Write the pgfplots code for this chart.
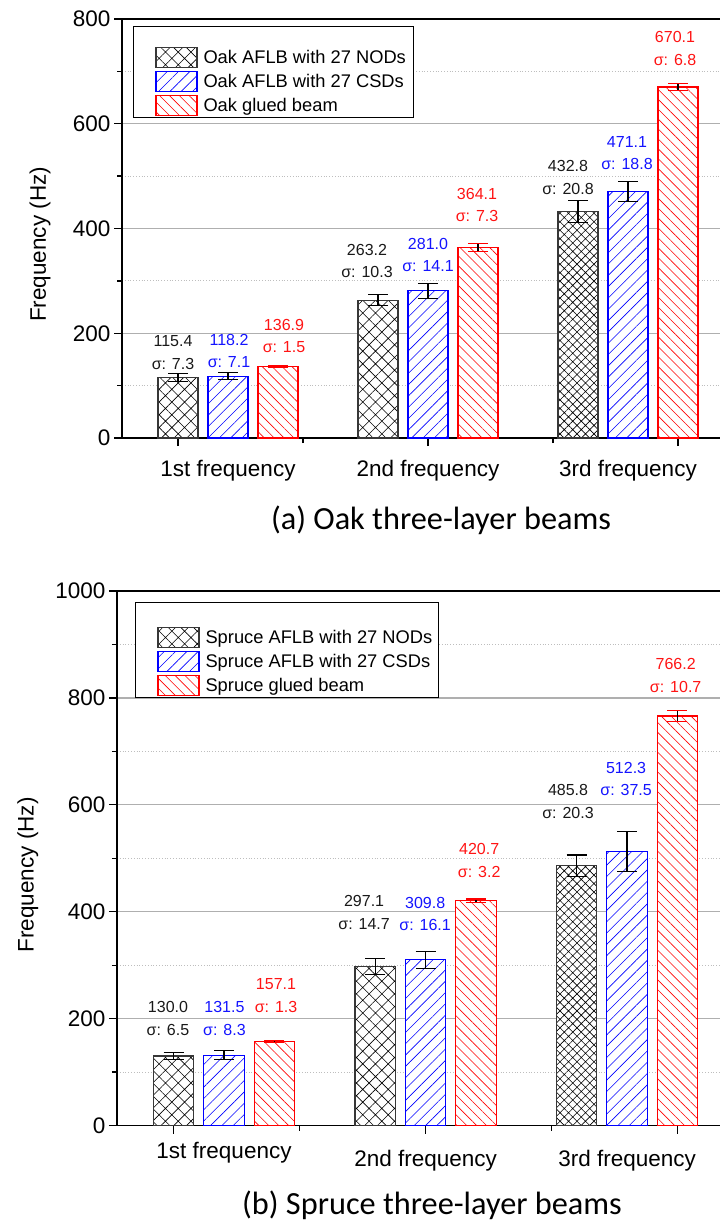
\documentclass[border=0pt]{standalone}
\usepackage{pgfplots}
\pgfplotsset{compat=1.18}
\usepackage{fontspec}
\setmainfont{Liberation Sans}
\newfontfamily\capfont{Carlito}
\usetikzlibrary{patterns.meta}

\definecolor{gridmajor}{RGB}{175,175,175}
\definecolor{gridminor}{RGB}{190,190,190}
\definecolor{edgeblack}{RGB}{55,55,55}
\definecolor{txtblack}{RGB}{25,25,25}
\definecolor{txtblue}{RGB}{20,20,255}
\definecolor{txtred}{RGB}{255,20,20}

\tikzset{vlabel/.style={font=\fontsize{16}{22.5}\selectfont, align=center, inner sep=0pt}}

\pgfplotsset{
  % legend swatch: a fixed 70x24 cell with a 41x20 patterned box
  swatch/.style={legend image code/.code={%
      \node[inner sep=0pt, minimum width=70pt, minimum height=24pt, anchor=west] at (-23pt,0pt) {};
      \draw[##1] (0pt,-10pt) rectangle (41pt,10pt);}},
  errs/.style 2 args={
      /pgfplots/error bars/y dir=both,
      /pgfplots/error bars/y explicit,
      /pgfplots/error bars/error bar style={#1, line width=1.2pt},
      /pgfplots/error bars/error mark options={rotate=90, mark size=10pt, line width=1.2pt, #2}},
  nodbar/.style={ybar, bar width=0.2, bar shift=0pt, fill=white, draw=edgeblack, line width=1.1pt,
      postaction={pattern={Hatch[angle=45,distance=#1,line width=0.6pt]}, pattern color=black},
      swatch, errs={black}{black}},
  nodbar/.default=9pt,
  csdbar/.style={ybar, bar width=0.2, bar shift=0pt, fill=white, draw=blue, line width=1.1pt,
      postaction={pattern={Lines[angle=45,distance=8pt,line width=0.6pt]}, pattern color=blue},
      swatch, errs={black}{black}},
  gluebar/.style={ybar, bar width=0.2, bar shift=0pt, fill=white, draw=red, line width=1.1pt,
      postaction={pattern={Lines[angle=-45,distance=7pt,line width=0.6pt]}, pattern color=red},
      swatch, errs={black}{red}},
  freqaxis/.style={
    scale only axis,
    axis x line*=box, axis y line*=left,
    axis line style={line width=1.6pt, black},
    tick style={line width=1.3pt, black},
    major tick length=8pt, minor tick length=5pt,
    tick align=outside,
    xtick pos=bottom,
    ymajorgrids, yminorgrids,
    major grid style={gridmajor, line width=1.3pt},
    minor grid style={gridminor, line width=0.8pt, dotted},
    minor y tick num=1,
    xtick={0.75,2,3.25}, xticklabels={},
    minor xtick={1.375,2.625},
    extra x ticks={1,2,3},
    extra x tick style={major tick length=0pt, grid=none},
    tick label style={font=\fontsize{22.5}{27}\selectfont},
    /pgf/number format/assume math mode=true,
    /pgf/number format/1000 sep={},
    ylabel style={font=\fontsize{22.5}{27}\selectfont, anchor=center},
    legend cell align=left,
    legend style={anchor=north west, draw=black, line width=1pt, fill=white,
      inner xsep=0pt, inner ysep=0pt, row sep=0pt, column sep=0pt,
      font=\fontsize{18.3}{21}\selectfont, nodes={inner sep=0pt}},
  },
}

\newcommand\vlab[5]{\node[vlabel, text=#1] at (axis cs:#2,#3) {#4\\σ: #5};}

\begin{document}
\begin{tikzpicture}
\useasboundingbox (0pt,0pt) rectangle (720pt,-1223pt);

% ---------- (a) oak ----------
\begin{axis}[freqaxis,
  at={(122pt,-438pt)}, anchor=south west, width=598pt, height=419pt,
  xmin=0.47, xmax=3.46, ymin=0, ymax=800, ytick={0,200,...,800},
  extra x tick labels={1st frequency,2nd frequency,3rd frequency},
  xticklabel style={yshift=-19pt},
  ylabel={Frequency (Hz)},
  ylabel style={at={(axis description cs:-0.137,0.462)}},
  legend style={at={(axis description cs:0.0184,0.983)}}]
\addlegendimage{legend image code/.code={\node[inner sep=0pt, minimum width=1pt, minimum height=19pt] {};}}
\addlegendentry{}
% bars sit at group centre -0.25 / 0 / +0.25
\addplot[nodbar] coordinates {(0.75,115.4) +- (0,7.3) (1.75,263.2) +- (0,10.3)};
\addlegendentry{Oak AFLB with 27 NODs\hspace*{8pt}}
\addplot[csdbar] coordinates {(1,118.2) +- (0,7.1) (2,281.0) +- (0,14.1) (3,471.1) +- (0,18.8)};
\addlegendentry{Oak AFLB with 27 CSDs}
\addplot[gluebar] coordinates {(1.25,136.9) +- (0,1.5) (2.25,364.1) +- (0,7.3) (3.25,670.1) +- (0,6.8)};
\addlegendentry{Oak glued beam}
\addplot[forget plot, nodbar=6pt] coordinates {(2.75,432.8) +- (0,20.8)};
\vlab{txtblack}{0.725}{163.2}{115.4}{7.3}
\vlab{txtblue}{1.005}{166.1}{118.2}{7.1}
\vlab{txtred}{1.28}{194.7}{136.9}{1.5}
\vlab{txtblack}{1.695}{337.9}{263.2}{10.3}
\vlab{txtblue}{2.0}{349.4}{281.0}{14.1}
\vlab{txtred}{2.245}{444.9}{364.1}{7.3}
\vlab{txtblack}{2.70}{497.4}{432.8}{20.8}
\vlab{txtblue}{2.995}{544.2}{471.1}{18.8}
\vlab{txtred}{3.235}{743.7}{670.1}{6.8}
\end{axis}
\node[font=\capfont\fontsize{32.3}{38}\selectfont] at (441pt,-520pt) {(a) Oak three-layer beams};

% ---------- (b) spruce ----------
\begin{axis}[freqaxis,
  at={(117pt,-1125.5pt)}, anchor=south west, width=603pt, height=534.5pt,
  xmin=0.469, xmax=3.461, ymin=0, ymax=1000, ytick={0,200,...,1000},
  extra x tick labels={\raisebox{8pt}[\height][\depth]{1st frequency},2nd frequency,3rd frequency},
  xticklabel style={yshift=-21pt},
  ylabel={Frequency (Hz)},
  ylabel style={at={(axis description cs:-0.148,0.469)}},
  legend style={at={(axis description cs:0.0299,0.979)}}]
\addlegendimage{legend image code/.code={\node[inner sep=0pt, minimum width=1pt, minimum height=23pt] {};}}
\addlegendentry{}
\addplot[nodbar] coordinates {(0.75,130.0) +- (0,6.5) (1.75,297.1) +- (0,14.7)};
\addlegendentry{Spruce AFLB with 27 NODs\hspace*{6pt}}
\addplot[csdbar] coordinates {(1,131.5) +- (0,8.3) (2,309.8) +- (0,16.1) (3,512.3) +- (0,37.5)};
\addlegendentry{Spruce AFLB with 27 CSDs}
\addplot[gluebar] coordinates {(1.25,157.1) +- (0,1.3) (2.25,420.7) +- (0,3.2) (3.25,766.2) +- (0,10.7)};
\addlegendentry{Spruce glued beam}
\addplot[forget plot, nodbar=6pt] coordinates {(2.75,485.8) +- (0,20.3)};
\vlab{txtblack}{0.722}{200.2}{130.0}{6.5}
\vlab{txtblue}{1.002}{200.2}{131.5}{8.3}
\vlab{txtred}{1.258}{243.2}{157.1}{1.3}
\vlab{txtblack}{1.695}{398.5}{297.1}{14.7}
\vlab{txtblue}{1.998}{395.7}{309.8}{16.1}
\vlab{txtred}{2.266}{495.8}{420.7}{3.2}
\vlab{txtblack}{2.707}{606.2}{485.8}{20.3}
\vlab{txtblue}{2.995}{648.3}{512.3}{37.5}
\vlab{txtred}{3.241}{841.9}{766.2}{10.7}
\end{axis}
\node[font=\capfont\fontsize{32.3}{38}\selectfont] at (432pt,-1205pt) {(b) Spruce three-layer beams};
\end{tikzpicture}
\end{document}
